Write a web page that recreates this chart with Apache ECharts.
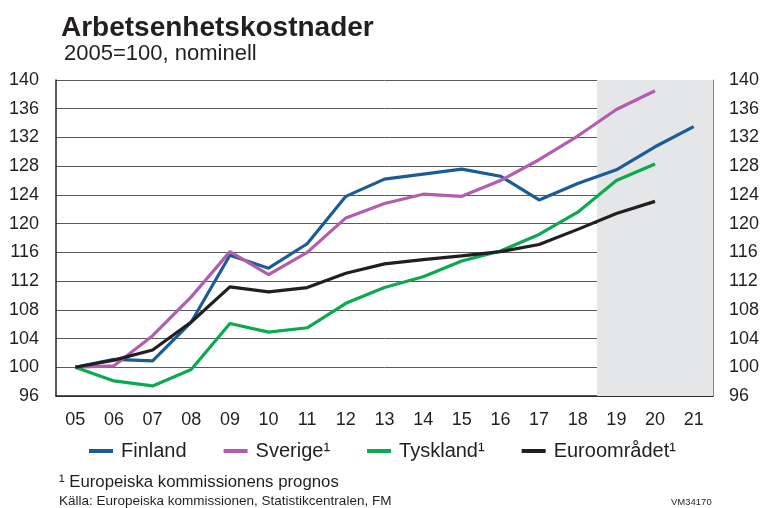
<!DOCTYPE html>
<html>
<head>
<meta charset="utf-8">
<script src="https://cdn.jsdelivr.net/npm/echarts@6/dist/echarts.min.js"></script>
<style>
  html, body { margin: 0; padding: 0; background: #fff; }
  #chart { width: 765px; height: 508px; }
</style>
</head>
<body>
<div id="chart"></div>
<script>
// Arbetsenhetskostnader, 2005=100
const years = ['05', '06', '07', '08', '09', '10', '11', '12', '13', '14', '15', '16', '17', '18', '19', '20', '21']
const finland = [100, 101.1, 100.9, 106.3, 115.6, 113.8, 117.2, 123.8, 126.2, 126.9, 127.6, 126.6, 123.3, 125.6, 127.5, 130.7, 133.5]
const sverige = [100, 100.2, 104.4, 109.8, 116.1, 112.9, 116.0, 120.8, 122.8, 124.1, 123.8, 126.0, 128.9, 132.2, 135.9, 138.5, null]
const tyskland = [100, 98.1, 97.4, 99.7, 106.1, 104.9, 105.5, 108.9, 111.1, 112.6, 114.8, 116.2, 118.5, 121.6, 126.0, 128.3, null]
const euro = [100, 101.0, 102.4, 106.3, 111.2, 110.5, 111.1, 113.1, 114.4, 115.0, 115.5, 116.1, 117.1, 119.2, 121.4, 123.1, null]
const seriesNames = ['Finland', 'Sverige\u00b9', 'Tyskland\u00b9', 'Euroområdet\u00b9']
const forecastStart = 14 // index of '19'

const colors = ['#1b5c96', '#b35db1', '#0aab4f', '#231f20']
const font = '"Liberation Sans", Arial, sans-serif'

const chart = echarts.init(document.getElementById('chart'))

const lineSeries = [finland, sverige, tyskland, euro].map((d, i) => ({
    name: seriesNames[i],
    type: 'line',
    data: d,
    symbol: 'none',
    z: 5 + (i === 0 ? 0 : 1),
    lineStyle: { width: 3.2, color: colors[i] },
    itemStyle: { color: colors[i] }
}))

const options = {
    animation: false,
    textStyle: { fontFamily: font },
    title: [
        {
            text: 'Arbetsenhetskostnader',
            left: 56, top: 9,
            textStyle: { fontFamily: font, fontSize: 28, fontWeight: 'bold', color: '#231f20' }
        },
        {
            text: '2005=100, nominell',
            left: 59, top: 38,
            textStyle: { fontFamily: font, fontSize: 22, fontWeight: 'normal', color: '#231f20' }
        },
        {
            text: '\u00b9 Europeiska kommissionens prognos',
            left: 54, top: 469,
            textStyle: { fontFamily: font, fontSize: 16.8, fontWeight: 'normal', color: '#231f20' }
        },
        {
            text: 'Källa: Europeiska kommissionen, Statistikcentralen, FM',
            left: 54, top: 489,
            textStyle: { fontFamily: font, fontSize: 13.5, fontWeight: 'normal', color: '#231f20' }
        },
        {
            text: 'VM34170',
            left: 666, top: 492,
            textStyle: { fontFamily: font, fontSize: 9.5, fontWeight: 'normal', color: '#231f20' }
        }
    ],
    legend: {
        data: seriesNames,
        left: 84,
        top: 436,
        itemGap: 37,
        itemWidth: 24,
        itemHeight: 4,
        icon: 'rect',
        textStyle: { fontFamily: font, fontSize: 20, color: '#231f20', padding: [0, 0, 0, 3] }
    },
    grid: { left: 56, right: 52, top: 80, bottom: 112 },
    xAxis: [
        {
            type: 'category',
            data: years,
            boundaryGap: true,
            axisLine: { lineStyle: { color: '#231f20', width: 1.5 } },
            axisTick: { inside: true, length: 5, lineStyle: { color: '#231f20' } },
            axisLabel: { fontFamily: font, fontSize: 18, color: '#231f20', margin: 15, interval: 0 }
        },
        {
            type: 'value',
            min: 0,
            max: years.length,
            show: false
        }
    ],
    yAxis: [
        {
            type: 'value',
            min: 96, max: 140, interval: 4,
            axisLine: { show: true, lineStyle: { color: '#231f20', width: 1.5 } },
            axisTick: { show: false },
            splitLine: { lineStyle: { color: '#5a5a5a', width: 1 } },
            axisLabel: { fontFamily: font, fontSize: 18, color: '#231f20', margin: 17 }
        },
        {
            type: 'value',
            position: 'right',
            min: 96, max: 140, interval: 4,
            axisLine: { show: true, lineStyle: { color: '#888', width: 1 } },
            axisTick: { show: false },
            splitLine: { show: false },
            axisLabel: { fontFamily: font, fontSize: 18, color: '#231f20', margin: 16 }
        }
    ],
    series: [
        {
            type: 'line',
            xAxisIndex: 1,
            yAxisIndex: 0,
            data: [],
            silent: true,
            z: 0,
            markArea: {
                silent: true,
                itemStyle: { color: '#e5e6e8' },
                data: [[{ xAxis: forecastStart }, { xAxis: years.length }]]
            }
        }
    ].concat(lineSeries)
}

chart.setOption(options)
</script>
</body>
</html>
